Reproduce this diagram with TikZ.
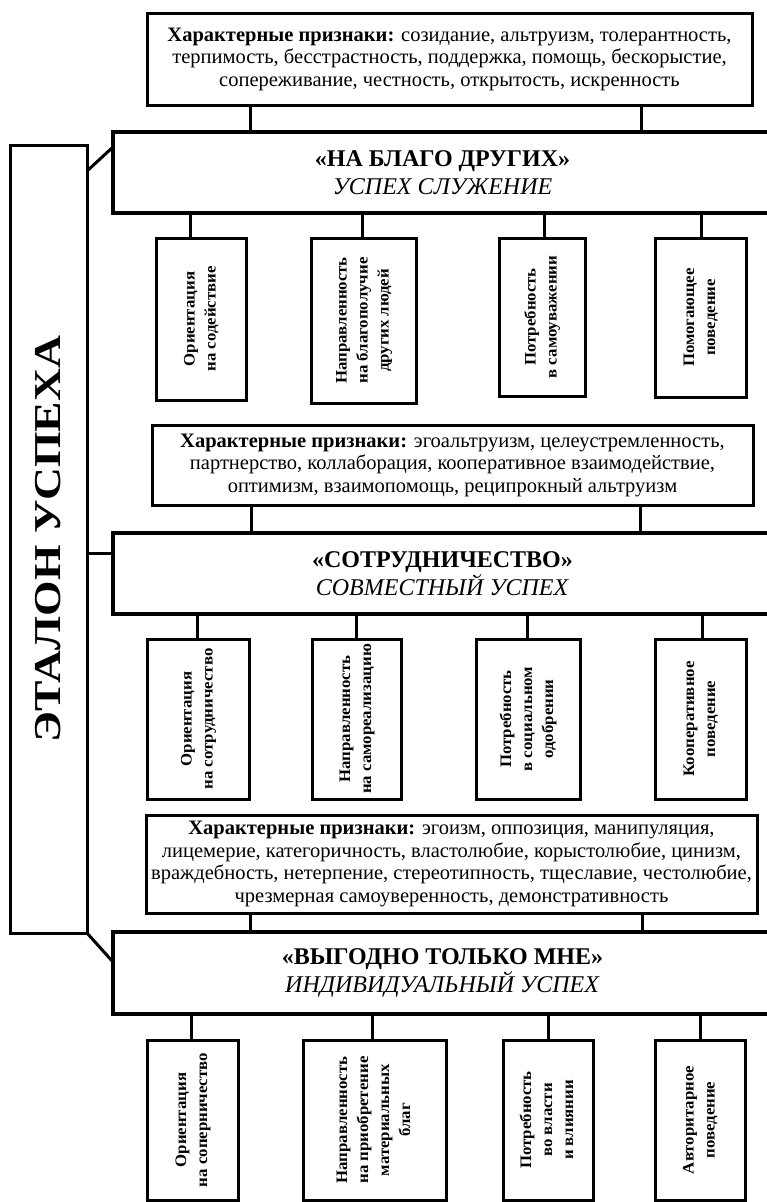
\documentclass[tikz,border=0pt]{standalone}
\usepackage{fontspec}
\setmainfont{Liberation Serif}
\newfontfamily\vfam[FakeStretch=1.05]{Liberation Serif}
\newfontfamily\lfam[FakeStretch=1.2]{Liberation Serif}
\usepackage{graphicx}
\newcommand{\vtxt}[1]{\rotatebox{90}{\vfam\fontsize{16}{21}\selectfont\bfseries\begin{tabular}{@{}c@{}}#1\end{tabular}}}
\tikzset{
  thinbox/.style={draw, line width=3pt, inner sep=0pt, outer sep=0pt},
  thickbox/.style={draw, line width=4.5pt, inner sep=0pt, outer sep=0pt, align=center, font=\fontsize{24}{28}\selectfont},
  featbox/.style={thinbox, align=center, font=\fontsize{20.5}{22.5}\selectfont},
  conn/.style={line width=3pt},
}
\begin{document}
\begin{tikzpicture}[x=1pt,y=-1pt]
\useasboundingbox (0,0) rectangle (767,1202);
\clip (0,0) rectangle (767,1202);
% left column
\node[thinbox, minimum width=77pt, minimum height=788pt] (L) at (48.5,539)
  {\rotatebox{90}{\lfam\fontsize{38}{40}\selectfont\bfseries ЭТАЛОН УСПЕХА}};
% level 1
\node[featbox, minimum width=605pt, minimum height=92pt] (F1) at (449.5,59)
  {\textbf{Характерные признаки:} созидание, альтруизм, толерантность,\\терпимость, бесстрастность, поддержка, помощь, бескорыстие,\\сопереживание, честность, открытость, искренность};
\node[thickbox, minimum width=659pt, minimum height=81pt] (B1) at (442.5,172.5)
  {\textbf{«НА БЛАГО ДРУГИХ»}\\\textit{УСПЕХ СЛУЖЕНИЕ}};
\node[thinbox, minimum width=90pt, minimum height=162pt] (c11) at (201,319) {\vtxt{Ориентация\\на содействие}};
\node[thinbox, minimum width=105pt, minimum height=165pt] (c12) at (363.5,320.5) {\vtxt{Направленность\\на благополучие\\других людей}};
\node[thinbox, minimum width=86pt, minimum height=158pt] (c13) at (542,317) {\vtxt{Потребность\\в самоуважении}};
\node[thinbox, minimum width=91pt, minimum height=159pt] (c14) at (700.5,317.5) {\vtxt{Помогающее\\поведение}};
% level 2
\node[featbox, minimum width=601pt, minimum height=80pt] (F2) at (452.5,465)
  {\textbf{Характерные признаки:} эгоальтруизм, целеустремленность,\\партнерство, коллаборация, кооперативное взаимодействие,\\оптимизм, взаимопомощь, реципрокный альтруизм};
\node[thickbox, minimum width=659pt, minimum height=81pt] (B2) at (442.5,573.5)
  {\textbf{«СОТРУДНИЧЕСТВО»}\\\textit{СОВМЕСТНЫЙ УСПЕХ}};
\node[thinbox, minimum width=102pt, minimum height=160pt] (c21) at (198,719) {\vtxt{Ориентация\\на сотрудничество}};
\node[thinbox, minimum width=89pt, minimum height=160pt] (c22) at (356.5,719) {\vtxt{Направленность\\на самореализацию}};
\node[thinbox, minimum width=104pt, minimum height=160pt] (c23) at (528,719) {\vtxt{Потребность\\в социальном\\одобрении}};
\node[thinbox, minimum width=91pt, minimum height=160pt] (c24) at (700.5,719) {\vtxt{Кооперативное\\поведение}};
% level 3
\node[featbox, minimum width=611pt, minimum height=98pt] (F3) at (451.5,864)
  {\textbf{Характерные признаки:} эгоизм, оппозиция, манипуляция,\\лицемерие, категоричность, властолюбие, корыстолюбие, цинизм,\\враждебность, нетерпение, стереотипность, тщеславие, честолюбие,\\чрезмерная самоуверенность, демонстративность};
\node[thickbox, minimum width=659pt, minimum height=82pt] (B3) at (442.5,973)
  {\textbf{«ВЫГОДНО ТОЛЬКО МНЕ»}\\\textit{ИНДИВИДУАЛЬНЫЙ УСПЕХ}};
\node[thinbox, minimum width=91pt, minimum height=160pt] (c31) at (192.5,1120) {\vtxt{Ориентация\\на соперничество}};
\node[thinbox, minimum width=143pt, minimum height=160pt] (c32) at (374.5,1120) {\vtxt{Направленность\\на приобретение\\материальных\\благ}};
\node[thinbox, minimum width=90pt, minimum height=160pt] (c33) at (548,1120) {\vtxt{Потребность\\во власти\\и влиянии}};
\node[thinbox, minimum width=90pt, minimum height=160pt] (c34) at (700,1120) {\vtxt{Авторитарное\\поведение}};
% connectors: features -> main boxes
\draw[conn] (F1.south -| 250,0) -- (B1.north -| 250,0);
\draw[conn] (F1.south -| 641,0) -- (B1.north -| 641,0);
\draw[conn] (F2.south -| 251,0) -- (B2.north -| 251,0);
\draw[conn] (F2.south -| 640,0) -- (B2.north -| 640,0);
\draw[conn] (F3.south -| 250,0) -- (B3.north -| 250,0);
\draw[conn] (F3.south -| 642,0) -- (B3.north -| 642,0);
% connectors: main boxes -> children
\draw[conn] (B1.south -| 190,0) -- (c11.north -| 190,0);
\draw[conn] (B1.south -| 362,0) -- (c12.north -| 362,0);
\draw[conn] (B1.south -| 544,0) -- (c13.north -| 544,0);
\draw[conn] (B1.south -| 701,0) -- (c14.north -| 701,0);
\draw[conn] (B2.south -| 197,0) -- (c21.north -| 197,0);
\draw[conn] (B2.south -| 356,0) -- (c22.north -| 356,0);
\draw[conn] (B2.south -| 527,0) -- (c23.north -| 527,0);
\draw[conn] (B2.south -| 702,0) -- (c24.north -| 702,0);
\draw[conn] (B3.south -| 191,0) -- (c31.north -| 191,0);
\draw[conn] (B3.south -| 372,0) -- (c32.north -| 372,0);
\draw[conn] (B3.south -| 548,0) -- (c33.north -| 548,0);
\draw[conn] (B3.south -| 700,0) -- (c34.north -| 700,0);
% connectors: left column -> main boxes
\draw[conn] (L.east |- 0,171) -- (B1.west |- 0,147);
\draw[conn] (L.east |- 0,553) -- (B2.west |- 0,553);
\draw[conn] (L.south east) -- (B3.west |- 0,962);
\end{tikzpicture}
\end{document}
